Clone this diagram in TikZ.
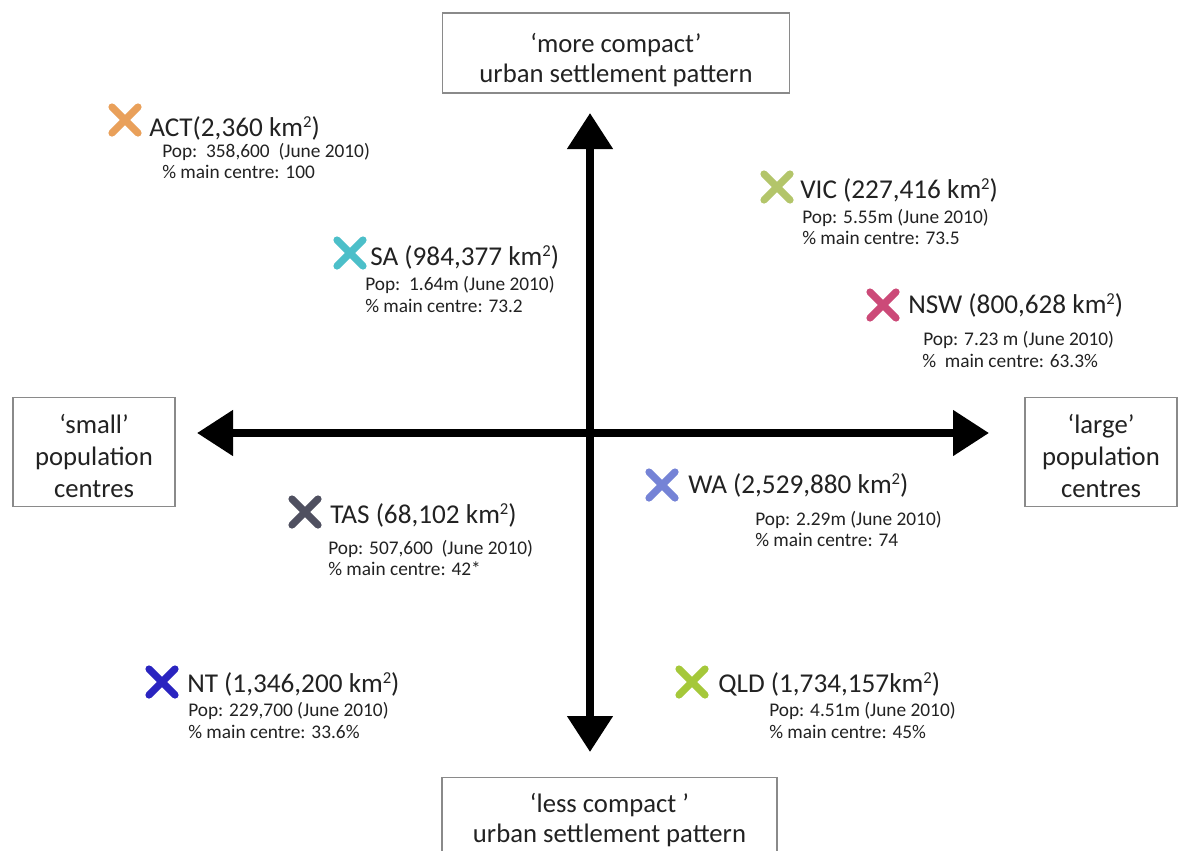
\documentclass[tikz,border=0pt]{standalone}
\usepackage{fontspec}
\setmainfont{Carlito}
\usetikzlibrary{arrows.meta,calc}

\definecolor{boxgray}{HTML}{8A8A8A}
\definecolor{ink}{HTML}{222222}
\definecolor{cACT}{HTML}{E9A05A}
\definecolor{cSA}{HTML}{4CBFC9}
\definecolor{cVIC}{HTML}{B3C56A}
\definecolor{cNSW}{HTML}{CC4A78}
\definecolor{cTAS}{HTML}{4F5060}
\definecolor{cWA}{HTML}{7583D6}
\definecolor{cNT}{HTML}{2A24C0}
\definecolor{cQLD}{HTML}{A5C83A}

\tikzset{
  axisline/.style={line width=6pt, -{Triangle[length=27pt,width=33pt]}, black},
  endbox/.style={draw=boxgray, line width=1.1pt, fill=white, align=center, text=ink,
    inner sep=0pt, font=\fontsize{20}{22.5}\selectfont},
  sidebox/.style={endbox, font=\fontsize{20}{24}\selectfont},
  statetitle/.style={anchor=base west, inner sep=0pt, text=ink, font=\fontsize{20.4}{24}\selectfont},
  stateinfo/.style={anchor=base west, inner sep=0pt, text=ink, font=\fontsize{14.5}{17}\selectfont},
  cross/.style={line width=5.4pt, line cap=round},
}

% square kilometres with a small raised 2
\newcommand{\kmsq}{km\raisebox{0.62ex}{\fontsize{12.5}{12}\selectfont 2}}

% a coloured cross marker: #1 colour, #2 centre
\newcommand{\statemark}[2]{%
  \draw[cross, #1] ($#2+(-13,-13)$) -- ($#2+(13,13)$);
  \draw[cross, #1] ($#2+(-13,13)$) -- ($#2+(13,-13)$);
}

\begin{document}
\begin{tikzpicture}[x=0.75pt, y=-0.75pt]
\clip (0,0) rectangle (1181,850);
\fill[white] (0,0) rectangle (1181,850);

% axis end boxes
\node[endbox, minimum width=260pt, minimum height=60pt] (top) at (616,53)
  {\rule{0pt}{25pt}`more compact'\\urban settlement pattern};
\node[endbox, anchor=north, minimum width=251pt, minimum height=64pt] (bottom) at (609.5,777)
  {`less compact '\\urban settlement pattern};
\node[sidebox, minimum width=121.5pt, minimum height=82pt] (left) at (94,452)
  {\rule{0pt}{20.5pt}`small'\\population\\centres};
\node[sidebox, minimum width=114pt, minimum height=82pt] (right) at (1101,452)
  {\rule{0pt}{20.5pt}`large'\\population\\centres};

% axes
\coordinate (O) at (590,433);
\coordinate (W) at (197,433);
\coordinate (E) at (989,433);
\coordinate (N) at (590,113);
\coordinate (S) at (590,752);
\draw[axisline] (O) -- (W);
\draw[axisline] (O) -- (E);
\draw[axisline] (O) -- (N);
\draw[axisline] (O) -- (S);

% states
\statemark{cACT}{(125,120)}
\node[statetitle] (act) at (149,136) {ACT(2,360 \kmsq)};
\node[stateinfo] (actpop) at (162,157) {Pop:\ \ 358,600\ \ (June 2010)};
\node[stateinfo] (actpct) at (162,178) {\% main centre: 100};

\statemark{cSA}{(350,253)}
\node[statetitle] (sa) at (370,265) {SA (984,377 \kmsq)};
\node[stateinfo] (sapop) at (365,290) {Pop:\ \ 1.64m (June 2010)};
\node[stateinfo] (sapct) at (365,312) {\% main centre: 73.2};

\statemark{cVIC}{(777,187)}
\node[statetitle] (vic) at (800,198) {VIC (227,416 \kmsq)};
\node[stateinfo] (vicpop) at (802,223) {Pop: 5.55m (June 2010)};
\node[stateinfo] (vicpct) at (802,244) {\% main centre: 73.5};

\statemark{cNSW}{(883,305)}
\node[statetitle] (nsw) at (908,313) {NSW (800,628 \kmsq)};
\node[stateinfo] (nswpop) at (923,345) {Pop: 7.23 m (June 2010)};
\node[stateinfo] (nswpct) at (922,367) {\%\ \ main centre: 63.3\%};

\statemark{cTAS}{(305,512)}
\node[statetitle] (tas) at (330,523) {TAS (68,102 \kmsq)};
\node[stateinfo] (taspop) at (328,554) {Pop: 507,600\ \ (June 2010)};
\node[stateinfo] (taspct) at (328,575) {\% main centre: 42*};

\statemark{cWA}{(662,485)}
\node[statetitle] (wa) at (688,493) {WA (2,529,880 \kmsq)};
\node[stateinfo] (wapop) at (755,525) {Pop: 2.29m (June 2010)};
\node[stateinfo] (wapct) at (755,546) {\% main centre: 74};

\statemark{cNT}{(162,682)}
\node[statetitle] (nt) at (187,692) {NT (1,346,200 \kmsq)};
\node[stateinfo] (ntpop) at (188,716) {Pop: 229,700 (June 2010)};
\node[stateinfo] (ntpct) at (188,738) {\% main centre: 33.6\%};

\statemark{cQLD}{(692,682)}
\node[statetitle] (qld) at (718,692) {QLD (1,734,157\kmsq)};
\node[stateinfo] (qldpop) at (769,716) {Pop: 4.51m (June 2010)};
\node[stateinfo] (qldpct) at (769,738) {\% main centre: 45\%};
\end{tikzpicture}
\end{document}
